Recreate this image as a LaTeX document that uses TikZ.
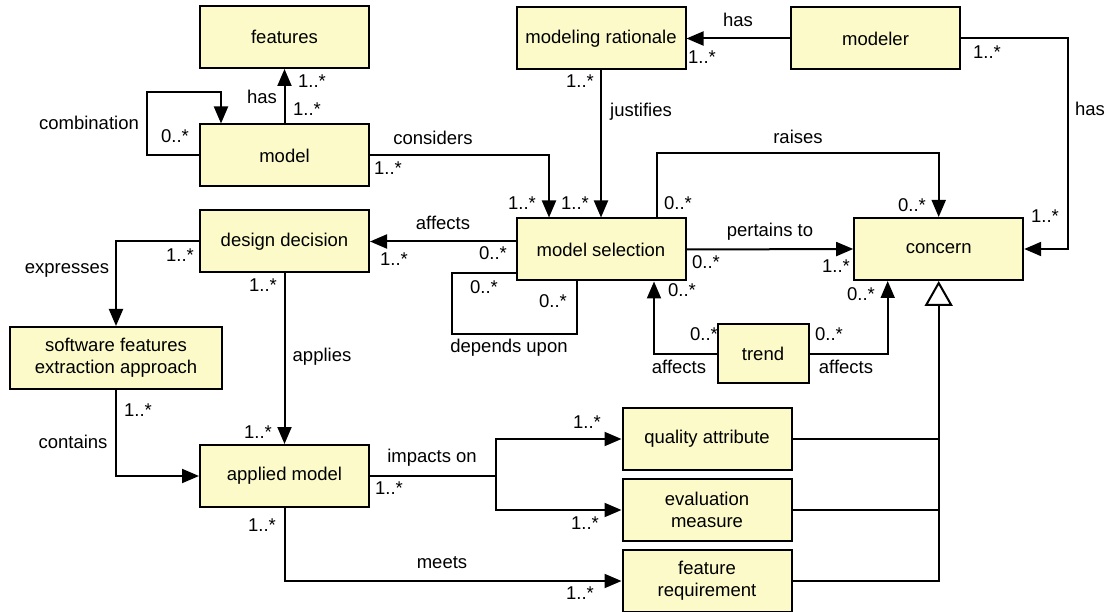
\documentclass[tikz,border=0pt]{standalone}
\usepackage{fontspec}
\setmainfont{Liberation Sans}
\usepackage{tikz}
\usetikzlibrary{arrows.meta}
\usetikzlibrary{positioning}
\definecolor{boxyellow}{RGB}{251,250,200}
\tikzset{
    cls/.style={
           rectangle,
           draw=black, line width=2pt,
           fill=boxyellow,
           minimum width=169pt, minimum height=62pt,
           inner sep=0pt,
           align=center,
           },
}
\tikzset{
    lbl/.style={
           inner sep=0pt,
           },
}
\tikzset{
    assoc/.style={line width=2pt, -{Triangle[length=17pt,width=14pt]}},
    plain/.style={line width=2pt},
    gen/.style={line width=2pt, -{Triangle[open,length=25pt,width=28pt,fill=white,line width=2pt]}},
}

\begin{document}
\begin{tikzpicture}[x=1pt,y=-1pt,font=\fontsize{18.5}{22}\selectfont]
\useasboundingbox (0,0) rectangle (1109,612);
% classes
\node[cls](features) at (284.5,37){features};
\node[cls](model) at (284.5,155.5){model};
\node[cls](rationale) at (601,38.5){modeling rationale};
\node[cls](modeler) at (875.5,38.5){modeler};
\node[cls](ddec) at (284.5,241.5){design decision};
\node[cls](msel) at (601,249.5){model selection};
\node[cls](concern) at (938.7,249){concern};
\node[cls,minimum width=212pt](sfea) at (116,358){software features\\extraction approach};
\node[cls,minimum width=91pt,minimum height=59pt](trend) at (763,354){trend};
\node[cls](amodel) at (284.5,476){applied model};
\node[cls](qattr) at (707,439){quality attribute};
\node[cls](eval) at (707,510){evaluation\\measure};
\node[cls](freq) at (707,581){feature\\requirement};

% associations
\draw[assoc] (model.north) -- (features.south);
\draw[assoc] (model.west) -- ++(-52,0) -- ++(0,-63.5) -| ([xshift=-63.5pt]model.north);
\draw[assoc] (model.east) -| ([xshift=-52pt]msel.north);
\draw[assoc] (rationale.south) -- (msel.north);
\draw[assoc] (modeler.west) -- (rationale.east);
\draw[assoc] (modeler.east) -- ++(107,0) |- (concern.east);
\draw[assoc] ([xshift=56pt]msel.north) -- ++(0,-64) -| (concern.north);
\draw[assoc] (msel.east) -- (concern.west);
\draw[assoc] (msel.west |- ddec.east) -- (ddec.east);
\draw[plain] ([yshift=-23.5pt]msel.west) -- ++(-64,0) -- ++(0,61) -| ([xshift=-24pt]msel.south);
\draw[assoc] (trend.west) -| ([xshift=53pt]msel.south);
\draw[assoc] (trend.east) -| ([xshift=-51pt]concern.south);
\draw[assoc] (ddec.west) -| (sfea.north);
\draw[assoc] (ddec.south) -- (amodel.north);
\draw[assoc] (sfea.south) |- (amodel.west);
\draw[plain] (amodel.east) -- ++(126,0) coordinate (split);
\draw[assoc] (split) |- (qattr.west);
\draw[assoc] (split) |- (eval.west);
\draw[assoc] (amodel.south) |- (freq.west);

% generalization
\draw[gen] (freq.east) -| (concern.south);
\draw[plain] (qattr.east) -- (qattr.east -| concern.south);
\draw[plain] (eval.east) -- (eval.east -| concern.south);

% association labels
\node[lbl](t-has1) at (262,97){has};
\node[lbl](t-comb) at (89,123){combination};
\node[lbl](t-cons) at (433,138){considers};
\node[lbl](t-just) at (641,112){justifies};
\node[lbl](t-has2) at (738,20){has};
\node[lbl](t-has3) at (1090,109){has};
\node[lbl](t-rais) at (798,137){raises};
\node[lbl](t-pert) at (770,232){pertains to};
\node[lbl](t-aff1) at (443,223){affects};
\node[lbl](t-dep) at (509,348){depends upon};
\node[lbl](t-aff2) at (679,367){affects};
\node[lbl](t-aff3) at (846,367){affects};
\node[lbl](t-expr) at (67,270){expresses};
\node[lbl](t-appl) at (322,357){applies};
\node[lbl](t-cont) at (73,442){contains};
\node[lbl](t-impa) at (432,458){impacts on};
\node[lbl](t-meet) at (442,563){meets};

% multiplicities
\node[lbl](m1) at (312,81){1..*};
\node[lbl](m2) at (307,109){1..*};
\node[lbl](m3) at (175,136){0..*};
\node[lbl](m4) at (388,168){1..*};
\node[lbl](m5) at (580,81){1..*};
\node[lbl](m6) at (702,57){1..*};
\node[lbl](m7) at (987,52){1..*};
\node[lbl](m8) at (1045,216){1..*};
\node[lbl](m9) at (912,205){0..*};
\node[lbl](m10) at (836,266){1..*};
\node[lbl](m11) at (522,203){1..*};
\node[lbl](m12) at (575,203){1..*};
\node[lbl](m13) at (678,203){0..*};
\node[lbl](m14) at (493,253){0..*};
\node[lbl](m15) at (484,287){0..*};
\node[lbl](m16) at (553,301){0..*};
\node[lbl](m17) at (706,262){0..*};
\node[lbl](m18) at (682,290){0..*};
\node[lbl](m19) at (704,334){0..*};
\node[lbl](m20) at (829,334){0..*};
\node[lbl](m21) at (861,294){0..*};
\node[lbl](m22) at (180,255){1..*};
\node[lbl](m23) at (263,285){1..*};
\node[lbl](m24) at (394,259){1..*};
\node[lbl](m25) at (138,410){1..*};
\node[lbl](m26) at (258,432){1..*};
\node[lbl](m27) at (389,488){1..*};
\node[lbl](m28) at (262,525){1..*};
\node[lbl](m29) at (587,422){1..*};
\node[lbl](m30) at (585,523){1..*};
\node[lbl](m31) at (580,593){1..*};
\end{tikzpicture}
\end{document}
